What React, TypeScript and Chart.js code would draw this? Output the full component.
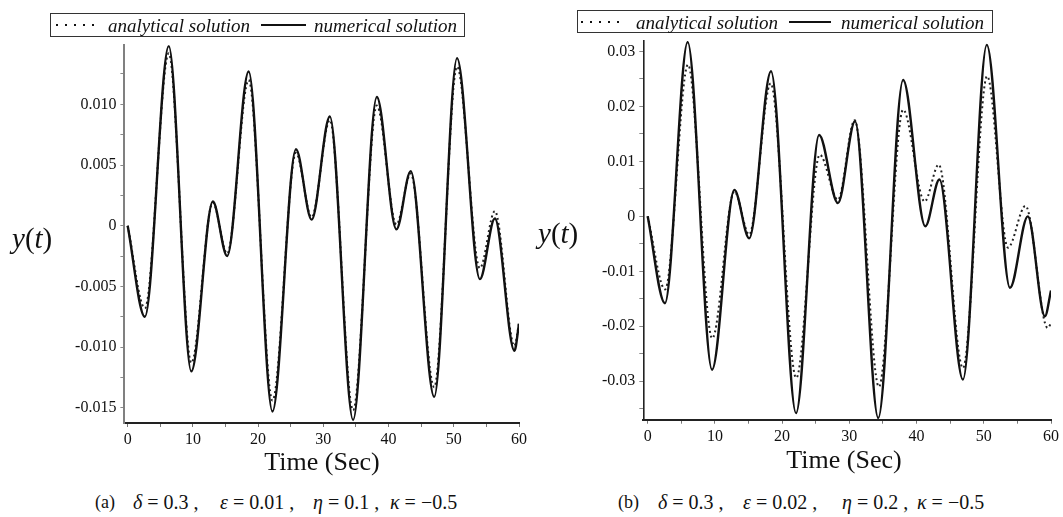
import React, { useEffect, useRef } from 'react';
import { Chart, registerables } from 'chart.js';
Chart.register(...registerables);

// ---------- DATA ----------
// Panel (a): delta=0.3, eps=0.01, eta=0.1, kappa=-0.5
const timeA = [0, 2.64, 6.3, 9.76, 13.06, 15.25, 18.55, 22.2, 25.8, 28.2, 31.0, 34.56, 38.2, 41.2, 43.4, 47.0, 50.5, 54.0, 56.3, 59.3, 60];
const numericalA = [0, -0.0075, 0.0148, -0.012, 0.002, -0.0025, 0.0127, -0.0153, 0.0063, 0.0005, 0.009, -0.016, 0.0106, -0.0003, 0.0045, -0.0141, 0.0138, -0.0044, 0.0006, -0.0103, -0.0081];
const analyticalA = [0, -0.0068, 0.0142, -0.0113, 0.0019, -0.0023, 0.012, -0.0144, 0.006, 0.0007, 0.0087, -0.0152, 0.0099, 0.0001, 0.0043, -0.0133, 0.0131, -0.0035, 0.0012, -0.0099, -0.008];

// Panel (b): delta=0.3, eps=0.02, eta=0.2, kappa=-0.5
const timeBNum = [0, 2.57, 5.95, 9.57, 12.9, 15.1, 18.35, 22.07, 25.5, 28.3, 30.85, 34.3, 38.0, 41.3, 43.4, 46.9, 50.45, 53.9, 56.55, 59.1, 60];
const numericalB = [0, -0.0158, 0.0317, -0.0279, 0.0048, -0.004, 0.0264, -0.0358, 0.0148, 0.0024, 0.0173, -0.0367, 0.0248, -0.0018, 0.0067, -0.0297, 0.0312, -0.013, 0.0, -0.0182, -0.0135];
const timeBAna = [0, 2.6, 6.0, 9.6, 12.9, 15.1, 18.3, 22.1, 25.6, 28.3, 30.8, 34.4, 38.0, 41.2, 43.3, 46.9, 50.5, 53.6, 56.2, 59.5, 60];
const analyticalB = [0, -0.0133, 0.0276, -0.0222, 0.0045, -0.0033, 0.0242, -0.0294, 0.0112, 0.003, 0.0175, -0.031, 0.0194, 0.0027, 0.0094, -0.0276, 0.0255, -0.0057, 0.0019, -0.0203, -0.0195];

// Tick values
const xTickValues = [0, 5, 10, 15, 20, 25, 30, 35, 40, 45, 50, 55, 60];
const xTickLabelEvery = 10;
const yTickValuesA = [-0.015, -0.0125, -0.01, -0.0075, -0.005, -0.0025, 0, 0.0025, 0.005, 0.0075, 0.01, 0.0125];
const yTickLabelEveryA = 0.005;
const yTickValuesB = [-0.035, -0.03, -0.025, -0.02, -0.015, -0.01, -0.005, 0, 0.005, 0.01, 0.015, 0.02, 0.025, 0.03];
const yTickLabelEveryB = 0.01;

const legendLabels = ['analytical solution', 'numerical solution'];

// ---------- CHART ----------
type PanelCfg = {
  tNum: number[]; yNum: number[]; tAna: number[]; yAna: number[];
  xmin: number; ymin: number; ymax: number;
  yTicks: number[]; yEvery: number; yDigits: number;
  yAxisWidth: number; xAxisHeight: number; padTop: number; padRight: number;
  yBorderColor: string; yBorderWidth: number;
};

const FONT = '"Liberation Serif", serif';
Chart.defaults.font.family = FONT;

function isMultiple(v: number, step: number) {
  return Math.abs(Math.round(v / step) * step - v) < 1e-9;
}

function makeChart(canvas: HTMLCanvasElement, c: PanelCfg) {
  return new Chart(canvas, {
    type: 'line',
    data: {
      datasets: [
        {
          label: legendLabels[1],
          data: c.tNum.map((t, i) => ({ x: t, y: c.yNum[i] })),
          borderColor: '#111',
          borderWidth: 2.4,
          pointRadius: 0,
          cubicInterpolationMode: 'monotone',
          fill: false,
        },
        {
          label: legendLabels[0],
          data: c.tAna.map((t, i) => ({ x: t, y: c.yAna[i] })),
          borderColor: '#222',
          borderWidth: 2,
          borderDash: [2, 3],
          pointRadius: 0,
          cubicInterpolationMode: 'monotone',
          fill: false,
        },
      ],
    },
    options: {
      animation: false,
      responsive: false,
      maintainAspectRatio: false,
      layout: { padding: { left: 0, top: c.padTop, right: c.padRight, bottom: 0 } },
      plugins: { legend: { display: false }, tooltip: { enabled: false } },
      scales: {
        x: {
          type: 'linear',
          min: c.xmin,
          max: 60,
          afterFit: (s: any) => { s.height = c.xAxisHeight; },
          afterBuildTicks: (s: any) => { s.ticks = xTickValues.map((v) => ({ value: v })); },
          ticks: {
            autoSkip: false,
            maxRotation: 0,
            padding: 3,
            color: '#111',
            font: { family: FONT, size: 16 },
            callback: (v: any) => (isMultiple(Number(v), xTickLabelEvery) ? String(v) : ''),
          },
          grid: { drawOnChartArea: false, drawTicks: true, tickLength: 4, color: '#777' },
          border: { display: true, color: '#222', width: 2 },
        },
        y: {
          type: 'linear',
          min: c.ymin,
          max: c.ymax,
          afterFit: (s: any) => { s.width = c.yAxisWidth; },
          afterBuildTicks: (s: any) => { s.ticks = c.yTicks.map((v) => ({ value: v })); },
          ticks: {
            autoSkip: false,
            padding: 4,
            color: '#111',
            font: { family: FONT, size: 16 },
            callback: (v: any) => {
              const n = Number(v);
              if (!isMultiple(n, c.yEvery)) return '';
              if (Math.abs(n) < 1e-12) return '0';
              return n.toFixed(c.yDigits);
            },
          },
          grid: { drawOnChartArea: false, drawTicks: true, tickLength: 4, color: '#888' },
          border: { display: true, color: c.yBorderColor, width: c.yBorderWidth },
        },
      },
    },
  } as any);
}

function Panel({ left, width, height, cfg }: { left: number; width: number; height: number; cfg: PanelCfg }) {
  const ref = useRef<HTMLCanvasElement>(null);
  useEffect(() => {
    if (!ref.current) return;
    const ch = makeChart(ref.current, cfg);
    let alive = true;
    const fonts: any = (document as any).fonts;
    if (fonts && fonts.load) {
      Promise.all([fonts.load('16px "Liberation Serif"'), fonts.load('italic 19px "Liberation Serif"')])
        .then(() => { if (alive) ch.update(); })
        .catch(() => {});
    }
    return () => { alive = false; ch.destroy(); };
  }, []);
  return (
    <canvas
      ref={ref}
      width={width}
      height={height}
      style={{ position: 'absolute', left, top: 0, width, height }}
    />
  );
}

function Legend({ left, top, width, height, dotFrom, dotTo, text1, solidFrom, solidTo, text2 }: any) {
  const base: React.CSSProperties = {
    position: 'absolute',
    fontFamily: FONT,
    fontStyle: 'italic',
    fontSize: 19,
    lineHeight: `${height}px`,
    top: 0,
    whiteSpace: 'nowrap',
    color: '#111',
  };
  return (
    <div style={{ position: 'absolute', left, top, width, height, border: '1.3px solid #333', boxSizing: 'border-box', background: '#fff' }}>
      <div style={{ position: 'absolute', left: dotFrom, width: dotTo - dotFrom, top: height / 2 - 2, height: 2,
        background: 'repeating-linear-gradient(to right, #111 0px, #111 2px, transparent 2px, transparent 9px)' }} />
      <span style={{ ...base, left: text1 }}>{legendLabels[0]}</span>
      <div style={{ position: 'absolute', left: solidFrom, width: solidTo - solidFrom, top: height / 2 - 2, height: 2, background: '#111' }} />
      <span style={{ ...base, left: text2 }}>{legendLabels[1]}</span>
    </div>
  );
}

function YLabel({ left, top }: { left: number; top: number }) {
  return (
    <div style={{ position: 'absolute', left, top, fontFamily: FONT, fontSize: 29, lineHeight: '32px', color: '#111', whiteSpace: 'nowrap' }}>
      <i>y</i>(<i>t</i>)
    </div>
  );
}

function XLabel({ center, top }: { center: number; top: number }) {
  return (
    <div style={{ position: 'absolute', left: center - 100, width: 200, top, textAlign: 'center', fontFamily: FONT, fontSize: 26, lineHeight: '30px', color: '#111' }}>
      Time (Sec)
    </div>
  );
}

function Caption({ tag, parts, xs, top }: { tag: string; parts: [string, string][]; xs: number[]; top: number }) {
  const st: React.CSSProperties = { position: 'absolute', top, fontFamily: FONT, fontSize: 20, lineHeight: '26px', color: '#111', whiteSpace: 'pre' };
  return (
    <>
      <span style={{ ...st, left: xs[0], fontSize: 18 }}>{tag}</span>
      {parts.map((p, i) => (
        <span key={i} style={{ ...st, left: xs[i + 1] }}>
          <i>{p[0]}</i>{p[1]}
        </span>
      ))}
    </>
  );
}

export default function App() {
  const cfgA: PanelCfg = {
    tNum: timeA, yNum: numericalA, tAna: timeA, yAna: analyticalA,
    xmin: -0.5, ymin: -0.01625, ymax: 0.01486,
    yTicks: yTickValuesA, yEvery: yTickLabelEveryA, yDigits: 3,
    yAxisWidth: 124.4, xAxisHeight: 37, padTop: 45.3, padRight: 9,
    yBorderColor: '#808080', yBorderWidth: 2,
  };
  const cfgB: PanelCfg = {
    tNum: timeBNum, yNum: numericalB, tAna: timeBAna, yAna: analyticalB,
    xmin: -0.65, ymin: -0.037, ymax: 0.0319,
    yTicks: yTickValuesB, yEvery: yTickLabelEveryB, yDigits: 2,
    yAxisWidth: 113.3, xAxisHeight: 40.3, padTop: 41, padRight: 12,
    yBorderColor: '#222', yBorderWidth: 1.6,
  };
  return (
    <div style={{ position: 'absolute', left: 0, top: 0, width: 1063, height: 517, background: '#fff', overflow: 'hidden' }}>
      <Panel left={0} width={530} height={460} cfg={cfgA} />
      <Panel left={530} width={533} height={460} cfg={cfgB} />
      <Legend left={50} top={12.7} width={415} height={24} dotFrom={5} dotTo={44} text1={57} solidFrom={210} solidTo={255} text2={263} />
      <Legend left={577} top={10} width={416} height={23} dotFrom={3} dotTo={46} text1={58} solidFrom={211} solidTo={253} text2={263} />
      <YLabel left={12} top={222} />
      <YLabel left={538} top={217} />
      <XLabel center={322} top={447} />
      <XLabel center={844} top={445} />
      <Caption tag="(a)" parts={[['δ', ' = 0.3 ,'], ['ε', ' = 0.01 ,'], ['η', ' = 0.1 ,'], ['κ', ' = −0.5']]} xs={[95, 133, 220, 313, 390]} top={489} />
      <Caption tag="(b)" parts={[['δ', ' = 0.3 ,'], ['ε', ' = 0.02 ,'], ['η', ' = 0.2 ,'], ['κ', ' = −0.5']]} xs={[618, 658, 743, 842, 917]} top={489} />
    </div>
  );
}
